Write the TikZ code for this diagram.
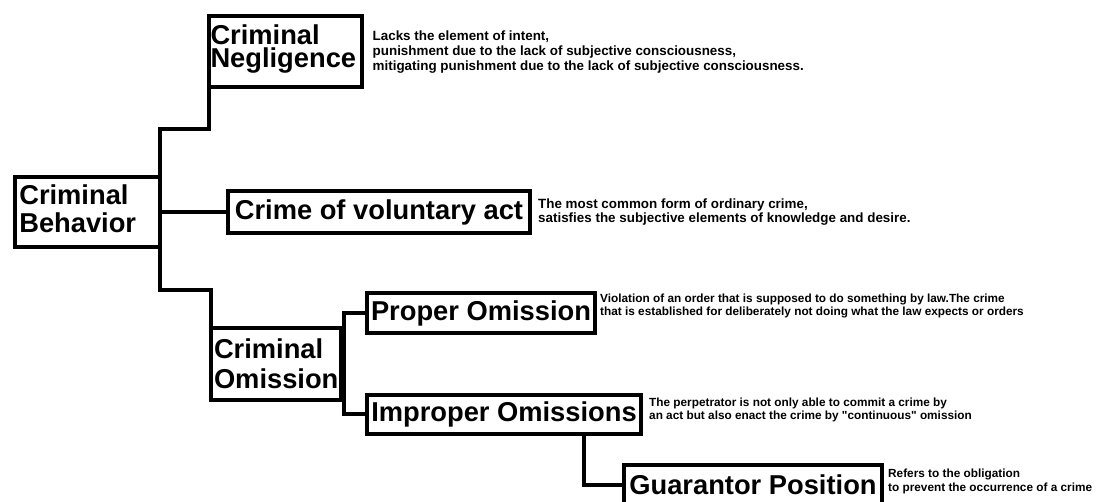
\documentclass[tikz,border=0pt]{standalone}
\usepackage{fontspec}
\setmainfont{Liberation Sans}
\newcommand{\hd}[1]{\fontsize{27.3}{#1}\selectfont\bfseries}
\newcommand{\nt}[2]{\fontsize{#1}{#2}\selectfont\bfseries}

\begin{document}
\begin{tikzpicture}[x=1pt,y=-1pt,
   cat/.style={draw,line width=4pt,outer sep=0pt,inner sep=0pt,font=\hd{22}},
   grp/.style={cat,align=left},
   note/.style={anchor=base west,align=left,inner sep=0pt},
   ln/.style={line width=4pt}]
\useasboundingbox (0,0) rectangle (1096,502);
\clip (0,0) rectangle (1096,502);

% categories
\node[grp,minimum height=70.5,text width=135.4,inner xsep=4.8,text depth=33.9,font=\hd{28}] (beh) at (87,212) {Criminal\\Behavior};
\node[grp,minimum height=71,text width=150,inner xsep=1.5,text depth=32.9,font=\hd{23}] (neg) at (285.5,51.5) {Criminal\\Negligence};
\node[cat,minimum width=302,minimum height=42] (cri) at (379,212) {Crime of voluntary act};
\node[grp,minimum height=72.5,text width=124,inner xsep=3,font=\hd{30}] (omi) at (276,364) {Criminal\\Omission};
\node[cat,minimum width=228.5,minimum height=40] (pro) at (481,313) {Proper Omission};
\node[cat,minimum width=274.5,minimum height=39] (imp) at (504,414.5) {Improper Omissions};
\node[cat,minimum width=258,minimum height=40] (gua) at (753,485) {Guarantor Position};

% links
\coordinate (tn) at (160,129);
\coordinate (to) at (160,290);
\draw[ln] (neg.west) |- (tn) -- (to) -| (omi.west);
\draw[ln] (beh.east) -- (cri.west);
\draw[ln] (pro.west) -- ++(-23,0) |- (imp.west);
\draw[ln] ([xshift=80]imp.south) |- (gua.west);

% notes (placed at the baseline of their last line)
\node[note,font=\nt{13.4}{15}] (negd) at (372.5,70.7)
   {Lacks the element of intent,\\punishment due to the lack of subjective consciousness,\\mitigating punishment due to the lack of subjective consciousness.};
\node[note,font=\nt{13.4}{14}] (crid) at (538,223)
   {The most common form of ordinary crime,\\satisfies the subjective elements of knowledge and desire.};
\node[note,font=\nt{11.8}{12.5}] (prod) at (600,315.5)
   {Violation of an order that is supposed to do something by law.The crime\\that is established for deliberately not doing what the law expects or orders};
\node[note,font=\nt{11.8}{12.5}] (impd) at (649,419.5)
   {The perpetrator is not only able to commit a crime by\\an act but also enact the crime by \textquotedbl continuous\textquotedbl\ omission};
\node[note,font=\nt{11.8}{14}] (guad) at (888,491.5)
   {Refers to the obligation\\to prevent the occurrence of a crime};
\end{tikzpicture}
\end{document}
